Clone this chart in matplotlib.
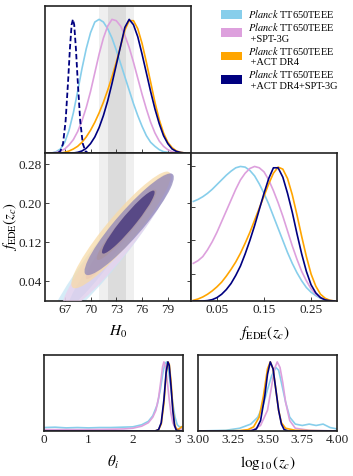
import matplotlib
matplotlib.use("Agg")
import matplotlib.pyplot as plt
from matplotlib.patches import Patch, Circle
from matplotlib.transforms import Affine2D

plt.rcParams['font.family'] = ['Liberation Serif', 'DejaVu Serif']
plt.rcParams['mathtext.fontset'] = 'stix'
plt.rcParams['font.size'] = 9

labels = [r"$\it{Planck}$ TT650TEEE",
          "$\\it{Planck}$ TT650TEEE\n +SPT-3G",
          "$\\it{Planck}$ TT650TEEE\n +ACT DR4",
          "$\\it{Planck}$ TT650TEEE\n +ACT DR4+SPT-3G"]
colors = ['#87ceeb', '#dda0dd', '#ffa500', '#000080']

# SH0ES H0 = 73.04 +- 1.04
shoes_mean, shoes_sig = 73.04, 1.04

# 1D posterior of H0 (normalised to peak)
h0_grid = [65, 65.5, 66, 66.5, 67, 67.5, 68, 68.5, 69, 69.5, 70, 70.5, 71, 71.5,
           72, 72.5, 73, 73.5, 74, 74.5, 75, 75.5, 76, 76.5, 77, 77.5, 78, 78.5,
           79, 79.5, 80, 80.5, 81]
h0_cyan = [0, 0, 0.01, 0.03, 0.08, 0.17, 0.3, 0.46, 0.63, 0.78, 0.9, 0.98, 1.0, 0.98,
           0.93, 0.86, 0.77, 0.67, 0.57, 0.47, 0.37, 0.28, 0.2, 0.13, 0.08, 0.05,
           0.025, 0.01, 0.005, 0, 0, 0, 0]
h0_violet = [0, 0, 0.005, 0.015, 0.03, 0.06, 0.1, 0.16, 0.24, 0.34, 0.46, 0.6, 0.74,
             0.86, 0.95, 1.0, 0.99, 0.95, 0.88, 0.79, 0.68, 0.56, 0.44, 0.33, 0.23,
             0.15, 0.09, 0.05, 0.025, 0.01, 0.003, 0, 0]
h0_orange = [0, 0, 0, 0, 0.005, 0.015, 0.03, 0.05, 0.08, 0.12, 0.17, 0.23, 0.3, 0.38,
             0.47, 0.57, 0.68, 0.8, 0.92, 0.99, 0.99, 0.93, 0.82, 0.68, 0.53, 0.38,
             0.25, 0.15, 0.08, 0.04, 0.015, 0.005, 0]
h0_navy = [0, 0, 0, 0, 0, 0, 0, 0.005, 0.015, 0.035, 0.07, 0.12, 0.19, 0.28, 0.39,
           0.52, 0.66, 0.8, 0.94, 1.0, 0.96, 0.87, 0.74, 0.6, 0.46, 0.33, 0.22, 0.13,
           0.07, 0.03, 0.012, 0.004, 0]
# LCDM reference (dashed)
h0_lcdm_x = [66.2, 66.5, 66.8, 67.1, 67.4, 67.6, 67.8, 67.95, 68.1, 68.3, 68.5, 68.8,
             69.1, 69.4, 69.7]
h0_lcdm = [0, 0.015, 0.07, 0.24, 0.55, 0.78, 0.96, 1.0, 0.96, 0.78, 0.55, 0.24, 0.07,
           0.015, 0]

# 1D posterior of f_EDE
f_grid = [0, 0.01, 0.02, 0.03, 0.04, 0.05, 0.06, 0.07, 0.08, 0.09, 0.10, 0.11, 0.12,
          0.13, 0.14, 0.15, 0.16, 0.17, 0.18, 0.19, 0.20, 0.21, 0.22, 0.23, 0.24, 0.25,
          0.26, 0.27, 0.28, 0.29, 0.30]
f_cyan = [0.74, 0.755, 0.775, 0.8, 0.83, 0.865, 0.9, 0.935, 0.965, 0.99, 1.0, 0.995,
          0.97, 0.93, 0.87, 0.8, 0.72, 0.63, 0.54, 0.45, 0.36, 0.28, 0.21, 0.15, 0.1,
          0.065, 0.04, 0.02, 0.01, 0.004, 0]
f_violet = [0.28, 0.3, 0.33, 0.38, 0.44, 0.51, 0.59, 0.67, 0.75, 0.83, 0.9, 0.95, 0.985,
            1.0, 0.99, 0.96, 0.9, 0.82, 0.73, 0.63, 0.52, 0.41, 0.31, 0.22, 0.15, 0.09,
            0.05, 0.025, 0.01, 0.004, 0]
f_orange = [0.005, 0.015, 0.03, 0.05, 0.075, 0.105, 0.14, 0.185, 0.235, 0.29, 0.355,
            0.43, 0.51, 0.6, 0.69, 0.78, 0.87, 0.95, 0.995, 0.98, 0.91, 0.79, 0.64,
            0.48, 0.33, 0.2, 0.11, 0.05, 0.02, 0.005, 0]
f_navy = [0, 0, 0, 0.003, 0.01, 0.025, 0.05, 0.085, 0.13, 0.19, 0.26, 0.35, 0.45, 0.56,
          0.68, 0.8, 0.91, 0.99, 0.99, 0.92, 0.8, 0.66, 0.5, 0.35, 0.22, 0.12, 0.06,
          0.025, 0.008, 0.002, 0]

# 1D posterior of theta_i
th_cyan_x = [0, 0.25, 0.5, 0.75, 1.0, 1.25, 1.5, 1.75, 2.0, 2.2, 2.35, 2.45, 2.55, 2.62,
             2.68, 2.72, 2.76, 2.8, 2.85, 2.9, 2.95, 3.0, 3.05, 3.1]
th_cyan = [0.05, 0.055, 0.045, 0.05, 0.045, 0.05, 0.05, 0.055, 0.06, 0.09, 0.14, 0.22,
           0.38, 0.6, 0.85, 0.97, 1.0, 0.9, 0.65, 0.4, 0.2, 0.09, 0.06, 0.06]
th_violet_x = [0, 0.5, 1.0, 1.5, 1.8, 2.0, 2.2, 2.35, 2.45, 2.52, 2.58, 2.63, 2.67, 2.7,
               2.74, 2.78, 2.82, 2.86, 2.9, 2.95, 3.0, 3.05, 3.1]
th_violet = [0.02, 0.02, 0.02, 0.025, 0.03, 0.04, 0.07, 0.12, 0.2, 0.3, 0.48, 0.72, 0.93,
             1.0, 0.92, 0.7, 0.45, 0.25, 0.12, 0.05, 0.03, 0.03, 0.03]
th_orange_x = [0, 2.5, 2.58, 2.64, 2.7, 2.75, 2.79, 2.82, 2.86, 2.9, 2.94, 2.98, 3.02,
               3.06, 3.1]
th_orange = [0, 0, 0.02, 0.1, 0.4, 0.82, 1.0, 0.97, 0.72, 0.35, 0.1, 0.03, 0.02, 0.04,
             0.06]
th_navy_x = [0, 2.5, 2.58, 2.64, 2.7, 2.75, 2.79, 2.82, 2.86, 2.9, 2.94, 2.98, 3.1]
th_navy = [0, 0, 0.02, 0.12, 0.45, 0.85, 1.0, 0.95, 0.65, 0.3, 0.08, 0.01, 0]

# 1D posterior of log10(z_c)
zc_cyan_x = [3.0, 3.2, 3.3, 3.38, 3.43, 3.47, 3.5, 3.53, 3.56, 3.58, 3.6, 3.63, 3.66,
             3.7, 3.75, 3.8, 3.85, 3.9, 3.95, 4.0]
zc_cyan = [0.0, 0.01, 0.04, 0.1, 0.2, 0.38, 0.6, 0.8, 0.92, 0.88, 0.7, 0.42, 0.2, 0.1,
           0.08, 0.1, 0.08, 0.1, 0.05, 0.03]
zc_violet_x = [3.0, 3.3, 3.4, 3.45, 3.5, 3.53, 3.55, 3.57, 3.59, 3.61, 3.63, 3.66, 3.7,
               3.8, 4.0]
zc_violet = [0.0, 0.0, 0.02, 0.08, 0.3, 0.65, 0.9, 1.0, 0.92, 0.7, 0.42, 0.15, 0.04,
             0.01, 0.0]
zc_orange_x = [3.0, 3.3, 3.36, 3.4, 3.44, 3.47, 3.5, 3.52, 3.54, 3.56, 3.58, 3.6, 3.63,
               3.7, 3.8, 4.0]
zc_orange = [0.0, 0.005, 0.02, 0.06, 0.2, 0.5, 0.9, 1.0, 0.9, 0.6, 0.3, 0.12, 0.04, 0.01,
             0.005, 0]
zc_navy_x = [3.0, 3.38, 3.42, 3.45, 3.48, 3.5, 3.52, 3.54, 3.56, 3.58, 3.6, 3.62, 3.65,
             4.0]
zc_navy = [0, 0, 0.03, 0.15, 0.5, 0.82, 1.0, 0.9, 0.6, 0.3, 0.1, 0.02, 0, 0]

# 2D contours (H0, f_EDE): lower tip, upper tip, horizontal half-width at centre
# order: cyan, violet, orange, navy ; each [2sigma, 1sigma]
c2d_low = [[(65.6, -0.05), (67.6, -0.01)], [(67.0, -0.02), (69.6, 0.045)],
           [(68.2, 0.026), (70.9, 0.084)], [(69.7, 0.053), (71.5, 0.097)]]
c2d_high = [[(79.2, 0.262), (76.6, 0.21)], [(79.2, 0.262), (77.0, 0.22)],
            [(78.9, 0.265), (77.5, 0.228)], [(79.3, 0.261), (77.3, 0.226)]]
c2d_hw = [[2.2, 1.15], [2.1, 1.1], [2.2, 1.1], [2.0, 1.0]]
fill_colors = [['#c6e5f5', '#9fd2ee'], ['#ebd0ed', '#d6a5da'],
               ['#f8daa5', '#f3b860'], ['#8c84b8', '#3a2c7a']]

fig = plt.figure(figsize=(3.53, 4.76), dpi=100)
W, H = 353., 476.


def add_ax(x0, y0, x1, y1):
    return fig.add_axes([x0 / W, 1 - y1 / H, (x1 - x0) / W, (y1 - y0) / H])


ax_top = add_ax(45, 6, 191, 153)
ax_main = add_ax(45, 153, 191, 301)
ax_right = add_ax(191, 153, 337, 301)
ax_th = add_ax(44, 355, 183, 431)
ax_zc = add_ax(198, 355, 337, 431)

h0_lim = (64.7, 81.7)
f_lim = (0.0, 0.303)

for ax in [ax_top, ax_main, ax_right, ax_th, ax_zc]:
    for s in ax.spines.values():
        s.set_linewidth(1.2)
        s.set_color('#222222')
    ax.tick_params(direction='in', length=3, width=0.6, colors='#222222',
                   labelsize=9.5, pad=2)

# SH0ES bands
for ax in [ax_top, ax_main]:
    ax.axvspan(shoes_mean - 2 * shoes_sig, shoes_mean + 2 * shoes_sig,
               color='#efefef', lw=0, zorder=0)
    ax.axvspan(shoes_mean - shoes_sig, shoes_mean + shoes_sig,
               color='#dcdcdc', lw=0, zorder=0)

# top: H0 1D
for y, c in zip([h0_cyan, h0_violet, h0_orange, h0_navy], colors):
    ax_top.plot(h0_grid, y, color=c, lw=1.2)
ax_top.plot(h0_lcdm_x, h0_lcdm, color='#000080', lw=1.3, ls=(0, (3, 1.5)))
ax_top.set_xlim(*h0_lim)
ax_top.set_ylim(0, 1.1)
ax_top.set_xticks([67, 70, 73, 76, 79])
ax_top.set_xticklabels([])
ax_top.set_yticks([])

# main: 2D
for i in range(4):
    for j in range(2):
        (xl, yl), (xh, yh) = c2d_low[i][j], c2d_high[i][j]
        tr = Affine2D.from_values((xh - xl) / 2, (yh - yl) / 2, c2d_hw[i][j], 0,
                                  (xh + xl) / 2, (yh + yl) / 2)
        ax_main.add_patch(Circle((0, 0), 1, transform=tr + ax_main.transData,
                                 facecolor=fill_colors[i][j], edgecolor='none',
                                 alpha=0.72, zorder=2 + i))
ax_main.set_xlim(*h0_lim)
ax_main.set_ylim(*f_lim)
ax_main.set_xticks([67, 70, 73, 76, 79])
ax_main.set_yticks([0.04, 0.12, 0.20, 0.28])
ax_main.set_yticklabels(['0.04', '0.12', '0.20', '0.28'])
ax_main.tick_params(right=True)
ax_main.set_xlabel(r'$H_0$', fontsize=11, labelpad=6)
ax_main.set_ylabel(r'$f_{\rm EDE}(z_c)$', fontsize=10.5, labelpad=0)

# right: f_EDE 1D
for y, c in zip([f_cyan, f_violet, f_orange, f_navy], colors):
    ax_right.plot(f_grid, y, color=c, lw=1.2)
ax_right.set_xlim(-0.005, 0.305)
ax_right.set_ylim(0, 1.1)
ax_right.set_xticks([0.05, 0.15, 0.25])
ax_right.set_xticklabels(['0.05', '0.15', '0.25'])
ax_right.set_yticks([0.2, 0.45, 0.7, 1.0])
ax_right.set_yticklabels([])
ax_right.set_xlabel(r'$f_{\rm EDE}(z_c)$', fontsize=11, labelpad=6)

# bottom: theta_i
for xx, y, c in zip([th_cyan_x, th_violet_x, th_orange_x, th_navy_x],
                    [th_cyan, th_violet, th_orange, th_navy], colors):
    ax_th.plot(xx, y, color=c, lw=1.2)
ax_th.set_xlim(0, 3.13)
ax_th.set_ylim(0, 1.1)
ax_th.set_xticks([0, 1, 2, 3])
ax_th.set_yticks([])
ax_th.tick_params(length=0)
ax_th.set_xlabel(r'$\theta_i$', fontsize=11, labelpad=6)

# bottom: log10 zc
for xx, y, c in zip([zc_cyan_x, zc_violet_x, zc_orange_x, zc_navy_x],
                    [zc_cyan, zc_violet, zc_orange, zc_navy], colors):
    ax_zc.plot(xx, y, color=c, lw=1.2)
ax_zc.set_xlim(3.0, 4.0)
ax_zc.set_ylim(0, 1.1)
ax_zc.set_xticks([3.0, 3.25, 3.5, 3.75, 4.0])
ax_zc.set_xticklabels(['3.00', '3.25', '3.50', '3.75', '4.00'])
ax_zc.set_yticks([])
ax_zc.tick_params(length=0)
ax_zc.set_xlabel(r'$\log_{10}(z_c)$', fontsize=11, labelpad=6)

handles = [Patch(facecolor=c, edgecolor='none') for c in colors]
fig.legend(handles, labels, loc='upper left', bbox_to_anchor=(214 / W, 1 - 1 / H),
           frameon=False, fontsize=7.5, handlelength=2.0, handleheight=0.9,
           labelspacing=0.1, handletextpad=0.6, borderpad=0.2)

fig.savefig('out.png', dpi=100)
